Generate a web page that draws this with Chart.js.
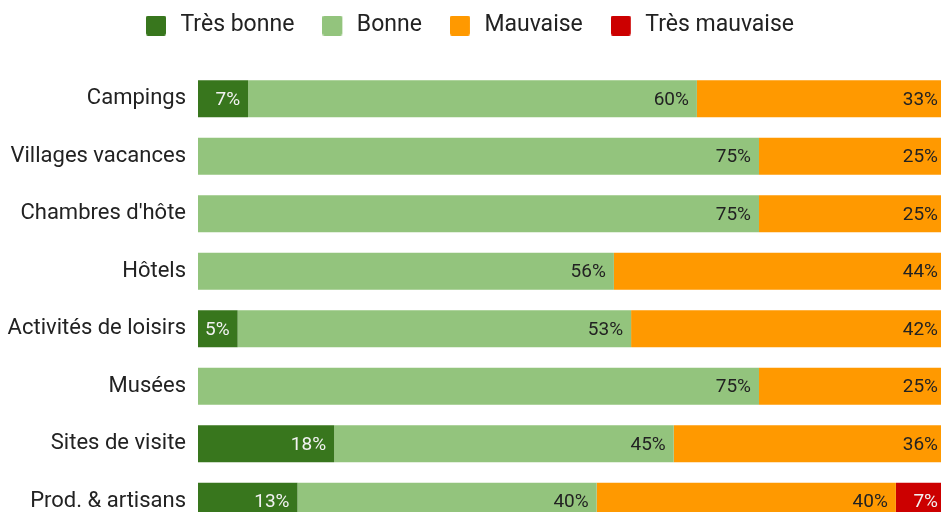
<!DOCTYPE html>
<html>
<head>
<meta charset="utf-8">
<script src="https://cdn.jsdelivr.net/npm/chart.js@4.4.0/dist/chart.umd.min.js"></script>
<style>
  html, body { margin: 0; padding: 0; background: #fff; overflow: hidden; }
  #frame { position: relative; width: 941px; height: 512px; overflow: hidden; }
  #chart-avis { position: absolute; left: 0; top: 0; }
</style>
</head>
<body>
<div id="frame"><canvas id="chart-avis" width="950" height="533"></canvas></div>
<script>
// values (percent of answers)
const categories = ['Campings', 'Villages vacances', "Chambres d'hôte", 'Hôtels',
  'Activités de loisirs', 'Musées', 'Sites de visite', 'Prod. & artisans'];
const tresBonne    = [6.7, 0, 0, 0, 5.3, 0, 18.2, 13.3];
const bonne        = [60, 75, 75, 55.6, 52.6, 75, 45.4, 40];
const mauvaise     = [33.3, 25, 25, 44.4, 42.1, 25, 36.4, 40];
const tresMauvaise = [0, 0, 0, 0, 0, 0, 0, 6.7];
const seriesNames  = ['Très bonne', 'Bonne', 'Mauvaise', 'Très mauvaise'];

const colors = ['#38761d', '#93c47d', '#ff9900', '#cc0000'];
const labelColors = ['#f2f2f2', '#222222', '#222222', '#f2f2f2'];
const fontFamily = 'Roboto, "Noto Sans", sans-serif';

// legend swatch: 20px rounded square, some air on the right
function swatch(color) {
  const c = document.createElement('canvas');
  c.width = 23; c.height = 20;
  const ctx = c.getContext('2d');
  ctx.fillStyle = color;
  ctx.beginPath();
  ctx.roundRect(0, 0, 20, 20, 2);
  ctx.fill();
  return c;
}

const valueLabels = {
  id: 'valueLabels',
  afterDatasetsDraw(chart) {
    const ctx = chart.ctx;
    ctx.save();
    ctx.font = '19px ' + fontFamily;
    ctx.textAlign = 'right';
    ctx.textBaseline = 'middle';
    chart.data.datasets.forEach((ds, i) => {
      chart.getDatasetMeta(i).data.forEach((bar, j) => {
        const v = ds.data[j];
        if (!v) return;
        ctx.fillStyle = labelColors[i];
        ctx.fillText(Math.round(v) + '%', bar.x - 8, bar.y + 1);
      });
    });
    ctx.restore();
  }
};

// legend: fixed height, drawn a bit higher
const legendSpace = {
  id: 'legendSpace',
  beforeInit(chart) {
    const lg = chart.legend;
    const fit = lg.fit;
    lg.fit = function () {
      fit.bind(lg)();
      this.height = 67;
    };
    const draw = lg.draw;
    lg.draw = function () {
      const ctx = chart.ctx;
      ctx.save();
      ctx.translate(-3, -17);
      draw.bind(lg)();
      ctx.restore();
    };
  }
};

const data = {
  labels: categories,
  datasets: [tresBonne, bonne, mauvaise, tresMauvaise].map((d, i) => ({
    label: seriesNames[i],
    data: d,
    backgroundColor: colors[i],
    borderWidth: 0,
    categoryPercentage: 1,
    barPercentage: 0.645
  }))
};

const options = {
  indexAxis: 'y',
  responsive: false,
  animation: false,
  layout: { padding: { left: 0, right: 4, top: 3, bottom: 3 } },
  scales: {
    x: { stacked: true, min: 0, max: 100, display: false },
    y: {
      stacked: true,
      grid: { display: false, drawTicks: false },
      border: { display: false },
      ticks: { color: '#222', font: { family: fontFamily, size: 22 }, padding: 12 },
      afterFit(scale) {
        scale.width = 198;
        scale.paddingTop = 0;
        scale.paddingBottom = 0;
      }
    }
  },
  plugins: {
    tooltip: { enabled: false },
    legend: {
      position: 'top',
      labels: {
        color: '#222',
        font: { family: fontFamily, size: 23 },
        usePointStyle: true,
        pointStyleWidth: 23,
        boxHeight: 20,
        padding: 28,
        generateLabels(chart) {
          const items = Chart.defaults.plugins.legend.labels.generateLabels(chart);
          items.forEach((it, i) => { it.pointStyle = swatch(colors[i]); });
          return items;
        }
      }
    }
  }
};

new Chart(document.getElementById('chart-avis'), {
  type: 'bar',
  data,
  options,
  plugins: [valueLabels, legendSpace]
});
</script>
</body>
</html>
